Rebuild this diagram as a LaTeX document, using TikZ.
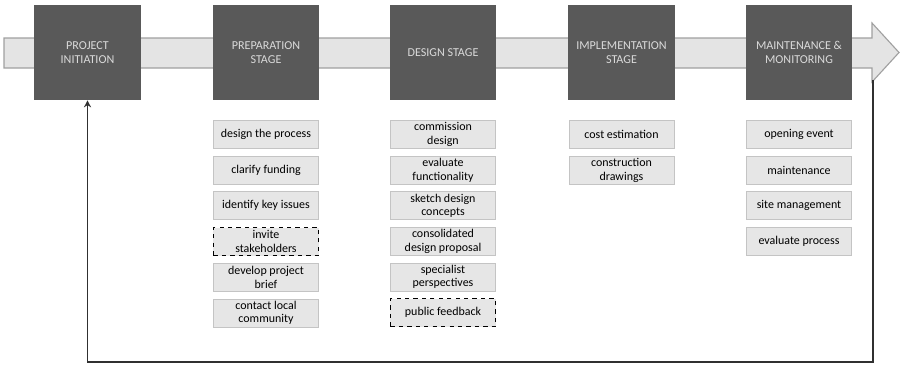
\documentclass[tikz,border=0pt]{standalone}
\usepackage{fontspec}
\setmainfont{Carlito}
\usepackage{tikz}
\usetikzlibrary{positioning,arrows.meta}
\definecolor{stagegray}{HTML}{595959}
\definecolor{stagetext}{HTML}{DADADA}
\definecolor{bandgray}{HTML}{E4E4E4}
\definecolor{bandedge}{HTML}{A0A0A0}
\definecolor{taskgray}{HTML}{E6E6E6}
\definecolor{taskedge}{HTML}{C4C4C4}
\definecolor{loopgray}{HTML}{303030}

\begin{document}
\begin{tikzpicture}[x=0.025cm, y=-0.025cm, node distance=0.175cm,
    stage/.style={rectangle, fill=stagegray, text=stagetext, minimum width=2.65cm, minimum height=2.375cm, align=center, font=\fontsize{8.6}{10.4}\selectfont},
    task/.style={rectangle, fill=taskgray, draw=taskedge, minimum width=2.625cm, minimum height=0.7cm, inner sep=1pt, align=center, font=\fontsize{8.5}{9.6}\selectfont},
    marked/.style={task, draw=black, dashed, thick}]
    \useasboundingbox (0,0) rectangle (902,368);

    % process band
    \draw[fill=bandgray, draw=bandedge, line width=0.8pt] (4,38) -- (872,38) -- (872,23) -- (899,52.5) -- (872,82) -- (872,68) -- (4,68) -- cycle;

    % stages
    \node[stage] (init) at (87.5,52.5) {PROJECT\\INITIATION};
    \node[stage] (prep) at (266,52.5) {PREPARATION\\STAGE};
    \node[stage] (design) at (443,52.5) {DESIGN STAGE};
    \node[stage] (impl) at (621.5,52.5) {IMPLEMENTATION\\STAGE};
    \node[stage] (maint) at (799,52.5) {MAINTENANCE \&\\MONITORING};

    % preparation tasks
    \node[task, below=0.5cm of prep] (p1) {design the process};
    \node[task, below=of p1] (p2) {clarify funding};
    \node[task, below=of p2] (p3) {identify key issues};
    \node[marked, below=of p3] (p4) {invite\\stakeholders};
    \node[task, below=of p4] (p5) {develop project\\brief};
    \node[task, below=of p5] (p6) {contact local\\community};

    % design tasks
    \node[task, below=0.5cm of design] (d1) {commission\\design};
    \node[task, below=of d1] (d2) {evaluate\\functionality};
    \node[task, below=of d2] (d3) {sketch design\\concepts};
    \node[task, below=of d3] (d4) {consolidated\\design proposal};
    \node[task, below=of d4] (d5) {specialist\\perspectives};
    \node[marked, below=of d5] (d6) {public feedback};

    % implementation tasks
    \node[task, below=0.5cm of impl] (i1) {cost estimation};
    \node[task, below=of i1] (i2) {construction\\drawings};

    % maintenance tasks
    \node[task, below=0.5cm of maint] (m1) {opening event};
    \node[task, below=of m1] (m2) {maintenance};
    \node[task, below=of m2] (m3) {site management};
    \node[task, below=of m3] (m4) {evaluate process};

    % feedback loop
    \coordinate (loopstart) at (873,80);
    \draw[loopgray, line width=0.9pt, -{Stealth[length=5pt,width=5pt]}] (loopstart) -- ++(0,282) -| (init.south);
\end{tikzpicture}
\end{document}
